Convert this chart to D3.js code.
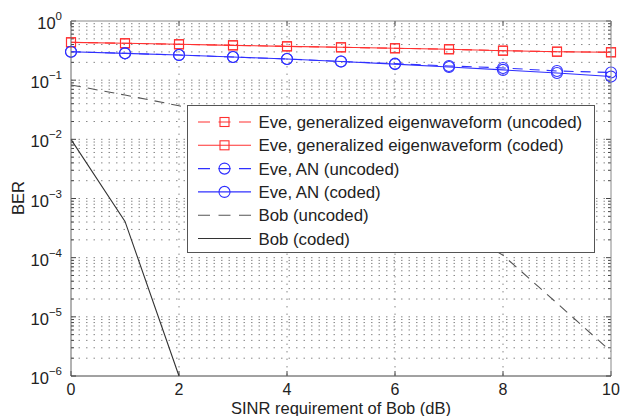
<!DOCTYPE html>
<html><head><meta charset="utf-8">
<script src="https://cdn.jsdelivr.net/npm/d3@7"></script>
<style>
body{margin:0;background:#fff;}
text{font-family:"Liberation Sans",Arial,sans-serif;fill:#222;}
</style></head>
<body><svg id="c" width="621" height="416"></svg>
<script>
const sinr = [0,1,2,3,4,5,6,7,8,9,10];
const eveGeUncoded = [0.436,0.42,0.404,0.388,0.373,0.359,0.346,0.333,0.315,0.303,0.296];
const eveGeCoded   = [0.436,0.42,0.404,0.388,0.373,0.359,0.346,0.333,0.315,0.303,0.296];
const eveAnUncoded = [0.303,0.284,0.266,0.246,0.228,0.207,0.19,0.174,0.161,0.143,0.135];
const eveAnCoded   = [0.303,0.284,0.266,0.246,0.228,0.207,0.187,0.167,0.149,0.132,0.115];
const bobUncoded   = [0.083,0.056,0.037,0.02,0.009,0.0035,0.0012,3.8e-4,1.1e-4,1.7e-5,2.6e-6];
const bobCodedX    = [0,1,2];
const bobCoded     = [1e-2,4.1e-4,1e-6];
const xTicks = [0,2,4,6,8,10];
const yExps = [0,-1,-2,-3,-4,-5,-6];
const legendLabels = ["Eve, generalized eigenwaveform (uncoded)","Eve, generalized eigenwaveform (coded)",
  "Eve, AN (uncoded)","Eve, AN (coded)","Bob (uncoded)","Bob (coded)"];

const L=71,R=611,T=21,B=376;
const svg=d3.select("#c");
const x=d3.scaleLinear().domain([0,10]).range([L,R]);
const y=d3.scaleLog().domain([1e-6,1]).range([B,T]);

// grid
const g=svg.append("g");
const minor=[];
for(let e=-6;e<0;e++){for(let m=1;m<10;m++){minor.push(m*Math.pow(10,e));}}
g.selectAll(".hg").data(minor.filter(v=>v>1e-6)).enter().append("line")
 .attr("x1",L).attr("x2",R).attr("y1",d=>y(d)).attr("y2",d=>y(d))
 .attr("stroke","#888").attr("stroke-width",1).attr("stroke-dasharray","1.5,6");
g.selectAll(".vg").data(xTicks.filter(v=>v>0&&v<10)).enter().append("line")
 .attr("x1",d=>x(d)).attr("x2",d=>x(d)).attr("y1",T).attr("y2",B)
 .attr("stroke","#888").attr("stroke-width",1).attr("stroke-dasharray","1.5,6");

// ticks inside
const tk=svg.append("g").attr("stroke","#444").attr("stroke-width",1);
xTicks.forEach(v=>{
  tk.append("line").attr("x1",x(v)).attr("x2",x(v)).attr("y1",B).attr("y2",B-5);
  tk.append("line").attr("x1",x(v)).attr("x2",x(v)).attr("y1",T).attr("y2",T+5);
});
minor.concat([1]).forEach(v=>{
  const len = (Math.abs(Math.log10(v)-Math.round(Math.log10(v)))<1e-9)?5:3;
  tk.append("line").attr("x1",L).attr("x2",L+len).attr("y1",y(v)).attr("y2",y(v));
  tk.append("line").attr("x1",R).attr("x2",R-len).attr("y1",y(v)).attr("y2",y(v));
});

// data lines
const plot=svg.append("g");
const line=(xs)=>d3.line().x((d,i)=>x(xs[i])).y(d=>y(d));
function series(vals,xs,color,dash,marker){
  plot.append("path").datum(vals).attr("d",line(xs)).attr("fill","none")
    .attr("stroke",color).attr("stroke-width",1.1).attr("stroke-dasharray",dash||null);
  if(marker==="sq"){
    plot.selectAll(null).data(vals).enter().append("rect")
      .attr("x",(d,i)=>x(xs[i])-4.5).attr("y",d=>y(d)-4.5).attr("width",9).attr("height",9)
      .attr("fill","none").attr("stroke",color).attr("stroke-width",1.1);
  } else if(marker==="ci"){
    plot.selectAll(null).data(vals).enter().append("circle")
      .attr("cx",(d,i)=>x(xs[i])).attr("cy",d=>y(d)).attr("r",5.5)
      .attr("fill","none").attr("stroke",color).attr("stroke-width",1.1);
  }
}
const RED="#ff3030", BLUE="#3030ff", BOBU="#555", BOBC="#333";
series(bobUncoded,sinr,BOBU,"10,7",null);
series(bobCoded,bobCodedX,BOBC,null,null);
series(eveGeUncoded,sinr,RED,"10,7","sq");
series(eveGeCoded,sinr,RED,null,"sq");
series(eveAnUncoded,sinr,BLUE,"10,7","ci");
series(eveAnCoded,sinr,BLUE,null,"ci");

// axes box
svg.append("line").attr("x1",L).attr("x2",R).attr("y1",T).attr("y2",T).attr("stroke","#888");
svg.append("line").attr("x1",R).attr("x2",R).attr("y1",T).attr("y2",B).attr("stroke","#888");
svg.append("line").attr("x1",L).attr("x2",L).attr("y1",T).attr("y2",B).attr("stroke","#666");
svg.append("line").attr("x1",L).attr("x2",R).attr("y1",B).attr("y2",B).attr("stroke","#444");

// tick labels
svg.selectAll(".xl").data(xTicks).enter().append("text")
 .attr("x",d=>x(d)).attr("y",395).attr("text-anchor","middle").attr("font-size",16).text(d=>d);
yExps.forEach(e=>{
  const t=svg.append("text").attr("x",62).attr("y",y(Math.pow(10,e))+8).attr("text-anchor","end").attr("font-size",16.5);
  t.append("tspan").text("10");
  t.append("tspan").attr("dy",-9).attr("font-size",11.5).text(e===0?"0":"\u2212"+(-e));
});

// axis labels
svg.append("text").attr("x",(L+R)/2).attr("y",414).attr("text-anchor","middle").attr("font-size",16.5)
 .text("SINR requirement of Bob (dB)");
svg.append("text").attr("transform","translate(24,198) rotate(-90)").attr("text-anchor","middle").attr("font-size",16.5)
 .text("BER");

// legend
const lg=svg.append("g");
lg.append("rect").attr("x",187.5).attr("y",105.5).attr("width",407).attr("height",147)
 .attr("fill","#fff").attr("stroke","#555").attr("stroke-width",1);
const legStyles=[[RED,"10,7","sq"],[RED,null,"sq"],[BLUE,"10,7","ci"],[BLUE,null,"ci"],[BOBU,"10,7",null],[BOBC,null,null]];
legendLabels.forEach((lab,i)=>{
  const cy=122+i*23.3;
  const [c,dash,mk]=legStyles[i];
  lg.append("line").attr("x1",198).attr("x2",251).attr("y1",cy).attr("y2",cy)
    .attr("stroke",c).attr("stroke-width",1.1).attr("stroke-dasharray",dash?"12,8.5":null);
  if(mk==="sq") lg.append("rect").attr("x",224.5-4.5).attr("y",cy-4.5).attr("width",9).attr("height",9).attr("fill","none").attr("stroke",c).attr("stroke-width",1.1);
  if(mk==="ci") lg.append("circle").attr("cx",224.5).attr("cy",cy).attr("r",5.5).attr("fill","none").attr("stroke",c).attr("stroke-width",1.1);
  lg.append("text").attr("x",258.5).attr("y",cy+6).attr("font-size",16.8).text(lab);
});
</script></body></html>
